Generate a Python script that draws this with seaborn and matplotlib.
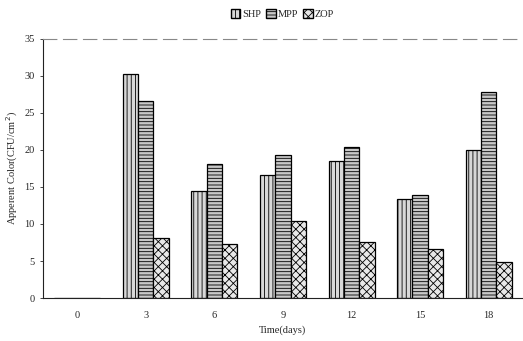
import matplotlib
matplotlib.use("Agg")
import matplotlib.pyplot as plt
import seaborn as sns
import pandas as pd
from matplotlib.patches import Patch

days = ["0", "3", "6", "9", "12", "15", "18"]
series = ["SHP", "MPP", "ZOP"]
shp = [0, 30.2, 14.5, 16.6, 18.5, 13.4, 20.0]
mpp = [0, 26.6, 18.1, 19.3, 20.4, 13.9, 27.8]
zop = [0, 8.1, 7.3, 10.4, 7.5, 6.6, 4.8]

rows = []
for name, vals in zip(series, [shp, mpp, zop]):
    for d, v in zip(days, vals):
        rows.append({"Time": d, "Series": name, "Value": v})
df = pd.DataFrame(rows)

sns.set_theme(style="white")
plt.rcParams["font.family"] = ["Liberation Serif", "DejaVu Serif"]
plt.rcParams["hatch.linewidth"] = 0.6

fig = plt.figure(figsize=(5.23, 3.41), dpi=100)
ax = fig.add_axes([0.082, 0.126, 0.918, 0.76])

hatches = {"SHP": "||||", "MPP": "-----", "ZOP": "xxxx"}
faces = {"SHP": "#d8d8d8", "MPP": "#c8c8c8", "ZOP": "#e8e8e8"}

sns.barplot(data=df, x="Time", y="Value", hue="Series", order=days,
            hue_order=series, palette=faces, width=0.67, gap=0,
            edgecolor="black", linewidth=0.9, legend=False, ax=ax)

for container, name in zip(ax.containers, series):
    for p in container:
        p.set_hatch(hatches[name])
        p.set_edgecolor("black")

ax.set_ylim(0, 35)
ax.set_xlim(-0.5, 6.5)
ax.set_yticks(range(0, 36, 5))
ax.tick_params(axis="y", labelsize=7.5, length=2, width=0.6, direction="out", pad=4, left=True)
ax.tick_params(axis="x", labelsize=7.5, length=0, pad=9)
ax.set_xlabel("Time(days)", fontsize=7.5, labelpad=4)
ax.set_ylabel("Apperent Color(CFU/cm$^2$)", fontsize=7.5, labelpad=3)

for s in ["left", "bottom"]:
    ax.spines[s].set_color("#222222")
    ax.spines[s].set_linewidth(0.8)
ax.spines["right"].set_visible(False)
ax.spines["top"].set_color("#888888")
ax.spines["top"].set_linewidth(0.8)
ax.spines["top"].set_linestyle((0, (12, 6)))

handles = [Patch(facecolor=faces[n], edgecolor="black", hatch=hatches[n], label=n) for n in series]
fig.legend(handles=handles, loc="upper center", bbox_to_anchor=(0.54, 1.0), ncol=3,
           frameon=False, fontsize=7.5, handlelength=0.9, handleheight=0.9,
           handletextpad=0.2, columnspacing=0.5)

fig.savefig("out.png", dpi=100)
